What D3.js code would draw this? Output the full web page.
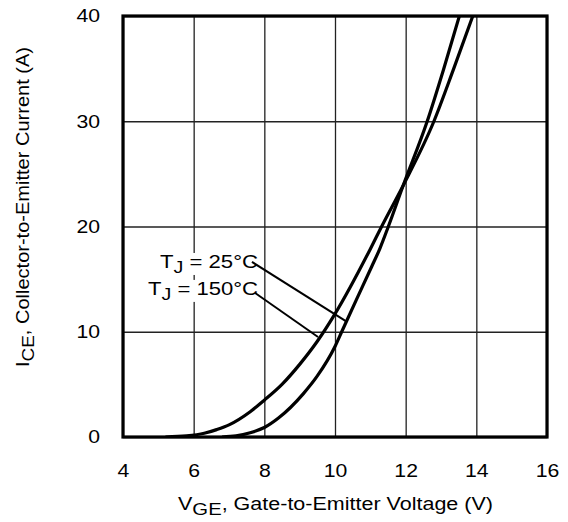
<!DOCTYPE html>
<html><head><meta charset="utf-8">
<script src="https://cdn.jsdelivr.net/npm/d3@7"></script>
<style>body{margin:0;background:#fff}svg{display:block}text{font-family:"Liberation Sans",Arial,Helvetica,sans-serif;fill:#000}</style>
</head><body>
<svg id="c" width="568" height="522"></svg>
<script>
const xTicks = [4, 6, 8, 10, 12, 14, 16];
const yTicks = [0, 10, 20, 30, 40];
// T_J = 25°C
const v25 = [6.8, 7.2, 7.6, 8.0, 8.4, 9.1, 9.5, 10.0, 10.19, 10.6, 11.04, 11.27, 11.51, 11.93, 12.61, 13.07, 13.52];
const i25 = [0, 0.1, 0.4, 0.9, 1.8, 4.1, 5.8, 8.6, 10.0, 13.0, 16.2, 17.9, 20.0, 23.9, 30.0, 34.9, 40.0];
// T_J = 150°C
const v150 = [5.2, 5.8, 6.3, 6.65, 7.0, 7.6, 8.0, 8.5, 9.0, 9.48, 10.0, 10.99, 11.32, 11.93, 12.8, 13.35, 13.9];
const i150 = [0, 0.1, 0.35, 0.7, 1.15, 2.4, 3.5, 5.0, 6.9, 9.0, 11.7, 17.8, 20.0, 23.9, 30.0, 34.9, 40.0];
const labels = ["25°C", "150°C"];

const svg = d3.select("#c");
const x = d3.scaleLinear().domain([4, 16]).range([123, 547]);
const y = d3.scaleLinear().domain([0, 40]).range([437, 16]);
const W = x(16) - x(4), H = y(0) - y(40);
const FONT = '"Liberation Sans",Arial,sans-serif';

// grid + tick labels
const gx = svg.append("g").attr("transform", `translate(0,${y(0)})`)
  .call(d3.axisBottom(x).tickValues(xTicks).tickSize(-H).tickPadding(27).tickFormat(d3.format("d")));
const gy = svg.append("g").attr("transform", `translate(${x(4)},0)`)
  .call(d3.axisLeft(y).tickValues(yTicks).tickSize(-W).tickPadding(23).tickFormat(d3.format("d")));
[gx, gy].forEach(g => {
  g.select(".domain").remove();
  g.selectAll("line").attr("stroke", "#222").attr("stroke-width", 1.3);
  g.selectAll("text").attr("font-size", 18.5).attr("font-family", FONT).attr("fill", "#000")
    .attr("textLength", d => String(d).length * 11.8).attr("lengthAdjust", "spacingAndGlyphs");
});
gx.selectAll("text").attr("dy", "0.71em");

svg.append("defs").append("clipPath").attr("id", "clip")
  .append("rect").attr("x", x(4)).attr("y", y(40)).attr("width", W).attr("height", H);

// annotation labels (white background)
const ann = [
  {t: labels[0], tx: 7.82, ty: 16.06, len: 98, x1: 7.65, y1: 16.63, x2: 10.34, y2: 10.93},
  {t: labels[1], tx: 7.82, ty: 13.5, len: 110, x1: 7.74, y1: 13.68, x2: 9.52, y2: 9.5}
];
ann.forEach(a => {
  const g = svg.append("g");
  const bg = g.append("rect").attr("fill", "#fff");
  const txt = g.append("text").attr("x", x(a.tx)).attr("y", y(a.ty)).attr("text-anchor", "end")
    .attr("font-size", 18).attr("textLength", a.len).attr("lengthAdjust", "spacingAndGlyphs");
  txt.append("tspan").text("T");
  txt.append("tspan").attr("dy", 5).attr("font-size", 16).text("J");
  txt.append("tspan").attr("dy", -5).text(" = " + a.t);
  const bb = txt.node().getBBox();
  bg.attr("x", bb.x - 2).attr("y", bb.y + 1).attr("width", bb.width + 3).attr("height", bb.height - 2);
  svg.append("line").attr("x1", x(a.x1)).attr("y1", y(a.y1)).attr("x2", x(a.x2)).attr("y2", y(a.y2))
    .attr("stroke", "#000").attr("stroke-width", 2);
});

// curves
const line = d3.line().x(d => x(d[0])).y(d => y(d[1])).curve(d3.curveMonotoneX);
[[v25, i25], [v150, i150]].forEach(([vs, is]) => {
  svg.append("path").attr("clip-path", "url(#clip)")
    .attr("d", line(vs.map((v, k) => [v, is[k]])))
    .attr("fill", "none").attr("stroke", "#000").attr("stroke-width", 3.2);
});

// frame
svg.append("rect").attr("x", x(4)).attr("y", y(40)).attr("width", W).attr("height", H)
  .attr("fill", "none").attr("stroke", "#000").attr("stroke-width", 3.2);

// axis titles
const xt = svg.append("text").attr("x", 178).attr("y", 510).attr("font-size", 17.5)
  .attr("textLength", 315).attr("lengthAdjust", "spacingAndGlyphs");
xt.append("tspan").text("V");
xt.append("tspan").attr("dy", 5).attr("font-size", 16.5).text("GE");
xt.append("tspan").attr("dy", -5).text(", Gate-to-Emitter Voltage  (V)");

const yt = svg.append("text").attr("transform", `translate(29,367) rotate(-90)`)
  .attr("font-size", 17.5).attr("textLength", 320).attr("lengthAdjust", "spacingAndGlyphs");
yt.append("tspan").text("I");
yt.append("tspan").attr("dy", 5).attr("font-size", 16.5).text("CE");
yt.append("tspan").attr("dy", -5).text(", Collector-to-Emitter Current  (A)");
</script>
</body></html>
